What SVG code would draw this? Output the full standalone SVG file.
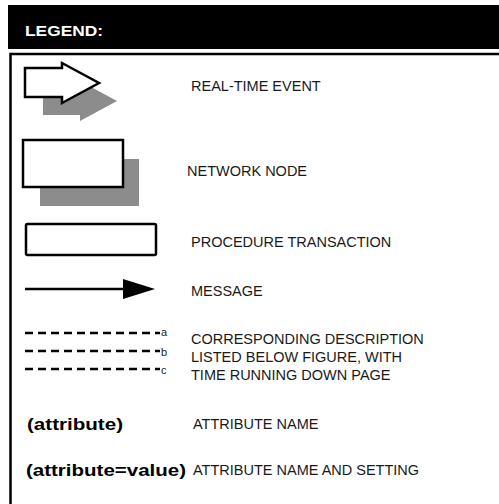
<svg xmlns="http://www.w3.org/2000/svg" width="499" height="504" viewBox="0 0 499 504">
<style>
.lbl{font-family:"Liberation Sans",Arial,sans-serif;font-size:14.5px;fill:#1a1a1a}
.bold{font-family:"Liberation Sans",Arial,sans-serif;font-weight:bold;font-size:17px;fill:#000}
.shape{fill:#fff;stroke:#000;stroke-width:2.5;stroke-linejoin:miter}
.shadow{fill:#8c8c8c;stroke:none}
.dash{stroke:#000;stroke-width:2.5;stroke-dasharray:8 5;fill:none}
.small{font-family:"Liberation Sans",Arial,sans-serif;font-size:11px;fill:#1a1a1a}
</style>
<rect width="499" height="504" fill="#fff"/>
<g id="header">
<rect x="8" y="5" width="491" height="44" fill="#000"/>
<text x="25" y="36" font-family="'Liberation Sans',Arial,sans-serif" font-weight="bold" font-size="15.5" fill="#fff" textLength="78" lengthAdjust="spacingAndGlyphs">LEGEND:</text>
</g>
<g id="frame">
<rect x="10.5" y="54" width="600" height="600" fill="none" stroke="#000" stroke-width="2.5"/>
</g>
<g id="real-time-event">
<polygon class="shadow" points="43,86 80,86 80,81 117,101 80,121 80,115 43,115"/>
<polygon class="shape" points="25,68 62,68 62,63 99,83 62,103 62,97 25,97"/>
<text class="lbl" x="191" y="91">REAL-TIME EVENT</text>
</g>
<g id="network-node">
<rect class="shadow" x="40" y="159" width="99" height="47"/>
<rect class="shape" x="23" y="140" width="100" height="47"/>
<text class="lbl" x="187" y="176">NETWORK NODE</text>
</g>
<g id="procedure-transaction">
<rect class="shape" x="26" y="224" width="130" height="31" rx="1.5"/>
<text class="lbl" x="191" y="247">PROCEDURE TRANSACTION</text>
</g>
<g id="connectors">
<g id="message-arrow">
<line x1="25" y1="289" x2="125" y2="289" stroke="#000" stroke-width="2.5"/>
<polygon points="123,279 155,289 123,299" fill="#000"/>
</g>
<g id="description-lines">
<line class="dash" x1="25" y1="333" x2="160" y2="333"/>
<line class="dash" x1="25" y1="351" x2="160" y2="351"/>
<line class="dash" x1="25" y1="369" x2="160" y2="369"/>
</g>
</g>
<g id="message">
<text class="lbl" x="191" y="296">MESSAGE</text>
</g>
<g id="description">
<text class="small" x="161" y="336">a</text>
<text class="small" x="161" y="356">b</text>
<text class="small" x="161" y="374">c</text>
<text class="lbl" x="191" y="344">CORRESPONDING DESCRIPTION</text>
<text class="lbl" x="191" y="362">LISTED BELOW FIGURE, WITH</text>
<text class="lbl" x="191" y="380">TIME RUNNING DOWN PAGE</text>
</g>
<g id="attribute">
<text class="bold" x="27" y="429.5" textLength="96" lengthAdjust="spacingAndGlyphs">(attribute)</text>
<text class="lbl" x="193" y="429">ATTRIBUTE NAME</text>
</g>
<g id="attribute-value">
<text class="bold" x="26" y="476" textLength="160" lengthAdjust="spacingAndGlyphs">(attribute=value)</text>
<text class="lbl" x="193" y="475">ATTRIBUTE NAME AND SETTING</text>
</g>
</svg>
